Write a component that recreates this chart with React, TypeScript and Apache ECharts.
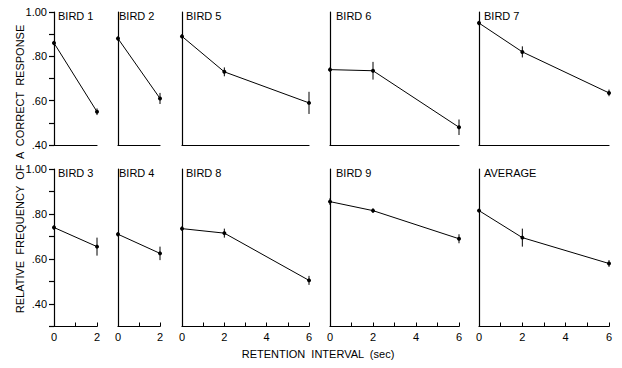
import React, { useEffect, useRef } from "react";
import * as echarts from "echarts";

// ---- data ----
const xShort = [0, 2];
const xLong = [0, 2, 6];
const bird1 = [0.86, 0.55];
const bird1Err = [0.01, 0.015];
const bird2 = [0.88, 0.61];
const bird2Err = [0.01, 0.025];
const bird5 = [0.89, 0.73, 0.59];
const bird5Err = [0.01, 0.02, 0.05];
const bird6 = [0.74, 0.735, 0.48];
const bird6Err = [0.01, 0.04, 0.035];
const bird7 = [0.95, 0.82, 0.635];
const bird7Err = [0.01, 0.025, 0.015];
const bird3 = [0.74, 0.655];
const bird3Err = [0.01, 0.04];
const bird4 = [0.71, 0.625];
const bird4Err = [0.01, 0.03];
const bird8 = [0.735, 0.715, 0.505];
const bird8Err = [0.01, 0.02, 0.02];
const bird9 = [0.855, 0.815, 0.69];
const bird9Err = [0.015, 0.01, 0.02];
const average = [0.815, 0.695, 0.58];
const averageErr = [0.005, 0.04, 0.015];
const yTickLabels: Record<string, string> = { "40": ".40", "60": ".60", "80": ".80", "100": "1.00" };
const xTickLabels = ["0", "2", "4", "6"];

const panels = [
  { name: "BIRD 1", row: 0, col: 0, x: xShort, y: bird1, e: bird1Err },
  { name: "BIRD 2", row: 0, col: 1, x: xShort, y: bird2, e: bird2Err },
  { name: "BIRD 5", row: 0, col: 2, x: xLong, y: bird5, e: bird5Err },
  { name: "BIRD 6", row: 0, col: 3, x: xLong, y: bird6, e: bird6Err },
  { name: "BIRD 7", row: 0, col: 4, x: xLong, y: bird7, e: bird7Err },
  { name: "BIRD 3", row: 1, col: 0, x: xShort, y: bird3, e: bird3Err },
  { name: "BIRD 4", row: 1, col: 1, x: xShort, y: bird4, e: bird4Err },
  { name: "BIRD 8", row: 1, col: 2, x: xLong, y: bird8, e: bird8Err },
  { name: "BIRD 9", row: 1, col: 3, x: xLong, y: bird9, e: bird9Err },
  { name: "AVERAGE", row: 1, col: 4, x: xLong, y: average, e: averageErr },
];

// ---- layout ----
const ROWS = [
  { top: 12, height: 133, min: 0.4 },
  { top: 169, height: 157.5, min: 0.3 },
];
const COLS = [
  { left: 54, width: 43, labelDx: 4 },
  { left: 118, width: 42, labelDx: 1 },
  { left: 182, width: 127, labelDx: 4 },
  { left: 330, width: 129, labelDx: 6 },
  { left: 479, width: 130, labelDx: 5 },
];
const FONT = "Liberation Sans, Arial, sans-serif";

export default function App() {
  const ref = useRef<HTMLDivElement>(null);
  useEffect(() => {
    if (!ref.current) return;
    const chart = echarts.init(ref.current, null, { renderer: "svg" });
    const grid: any[] = [];
    const xAxis: any[] = [];
    const yAxis: any[] = [];
    const series: any[] = [];
    const graphic: any[] = [];
    const line = { show: true, onZero: false, lineStyle: { color: "#000", width: 1.2 } };

    panels.forEach((p, i) => {
      const r = ROWS[p.row];
      const c = COLS[p.col];
      grid.push({ left: c.left, top: r.top, width: c.width, height: r.height, containLabel: false });
      const xmax = p.x[p.x.length - 1];
      const bottom = p.row === 1;
      xAxis.push({
        type: "value",
        gridIndex: i,
        min: 0,
        max: xmax,
        interval: 1,
        axisLine: line,
        axisTick: { show: bottom, inside: true, length: 4, lineStyle: { color: "#000", width: 1 } },
        axisLabel: {
          show: bottom,
          color: "#000",
          fontSize: 11,
          fontFamily: FONT,
          margin: 5,
          formatter: (v: number) => (Math.round(v) % 2 === 0 ? xTickLabels[Math.round(v) / 2] : ""),
        },
        splitLine: { show: false },
      });
      const first = p.col === 0;
      yAxis.push({
        type: "value",
        gridIndex: i,
        min: r.min,
        max: 1.0,
        interval: 0.1,
        axisLine: line,
        axisTick: { show: first, length: 5, lineStyle: { color: "#000", width: 1.2 } },
        axisLabel: {
          show: first,
          color: "#000",
          fontSize: 11,
          fontFamily: FONT,
          margin: 7,
          formatter: (v: number) => yTickLabels[String(Math.round(v * 100))] || "",
        },
        splitLine: { show: false },
      });
      series.push({
        type: "line",
        xAxisIndex: i,
        yAxisIndex: i,
        data: p.x.map((x, k) => [x, p.y[k]]),
        symbol: "circle",
        symbolSize: 4,
        clip: false,
        itemStyle: { color: "#000" },
        lineStyle: { color: "#000", width: 1 },
      });
      series.push({
        type: "custom",
        xAxisIndex: i,
        yAxisIndex: i,
        clip: false,
        data: p.x.map((x, k) => [x, p.y[k] - p.e[k], p.y[k] + p.e[k]]),
        renderItem: (params: any, api: any) => {
          const a = api.coord([api.value(0), api.value(1)]);
          const b = api.coord([api.value(0), api.value(2)]);
          return {
            type: "line",
            shape: { x1: a[0], y1: a[1], x2: b[0], y2: b[1] },
            style: { stroke: "#000", lineWidth: 1 },
          };
        },
      });
      graphic.push({
        type: "text",
        x: c.left + c.labelDx,
        y: r.top + 4,
        style: { text: p.name, fontSize: 11, fontFamily: FONT, fill: "#000", textVerticalAlign: "middle" },
      });
    });

    graphic.push({
      type: "text",
      x: 20,
      y: 169,
      rotation: Math.PI / 2,
      style: {
        text: "RELATIVE  FREQUENCY  OF  A  CORRECT  RESPONSE",
        fontSize: 11,
        fontFamily: FONT,
        fill: "#000",
        textAlign: "center",
        textVerticalAlign: "middle",
      },
    });
    graphic.push({
      type: "text",
      x: 318,
      y: 354,
      style: {
        text: "RETENTION  INTERVAL  (sec)",
        fontSize: 11,
        fontFamily: FONT,
        fill: "#000",
        textAlign: "center",
        textVerticalAlign: "middle",
      },
    });

    chart.setOption({ animation: false, grid, xAxis, yAxis, series, graphic });
    return () => chart.dispose();
  }, []);
  return (
    <div
      ref={ref}
      style={{ position: "absolute", left: 0, top: 0, width: 622, height: 368, background: "#fff" }}
    />
  );
}
